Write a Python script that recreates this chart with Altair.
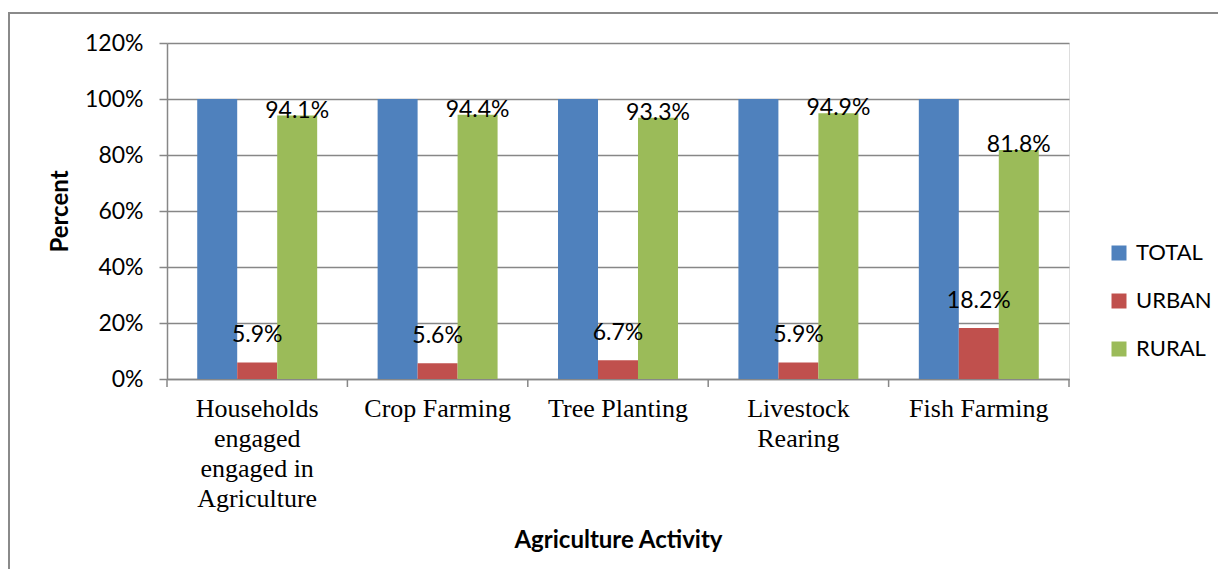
import altair as alt
import pandas as pd

categories = [
    ["Households", "engaged", "engaged in", "Agriculture"],
    ["Crop Farming"],
    ["Tree Planting"],
    ["Livestock", "Rearing"],
    ["Fish Farming"],
]
series = ["TOTAL", "URBAN", "RURAL"]
total = [100, 100, 100, 100, 100]
urban = [5.9, 5.6, 6.7, 5.9, 18.2]
rural = [94.1, 94.4, 93.3, 94.9, 81.8]
colors = ["#4F81BD", "#C0504D", "#9BBB59"]
y_ticks = [0, 20, 40, 60, 80, 100, 120]

cat_names = ["\n".join(c) for c in categories]
rows = []
for s, vals in zip(series, [total, urban, rural]):
    for c, v in zip(cat_names, vals):
        rows.append({"cat": c, "series": s, "value": v, "label": f"{v:.1f}%"})
df = pd.DataFrame(rows)
cat_df = pd.DataFrame({"cat": cat_names})

SANS = "Lato"
GRID = "#878787"
W, H = 902, 336
STEP = W / len(cat_names)

x_enc = alt.X(
    "cat:N",
    sort=cat_names,
    scale=alt.Scale(paddingInner=0.335, paddingOuter=0.1675),
    axis=alt.Axis(
        title="Agriculture Activity",
        titleFont=SANS, titleFontSize=24, titleFontWeight="bold", titleColor="#000",
        titleY=149, titleBaseline="top",
        labelFont="Liberation Serif", labelFontSize=26, labelColor="#000",
        labelExpr="split(datum.label, '\\n')", labelLineHeight=30,
        labelAngle=0, labelPadding=16,
        ticks=False, domainColor=GRID, domainWidth=1.5, grid=False,
    ),
)
xoff = alt.XOffset("series:N", sort=series, scale=alt.Scale(domain=series, paddingInner=0, paddingOuter=0))
y_enc = alt.Y(
    "value:Q",
    scale=alt.Scale(domain=[0, 120], nice=False),
    axis=alt.Axis(
        title="Percent", values=y_ticks,
        titleFont=SANS, titleFontSize=24, titleFontWeight="bold", titleColor="#000",
        titleX=-107, titleBaseline="middle",
        labelFont=SANS, labelFontSize=23, labelColor="#000",
        labelExpr="datum.value + '%'", labelPadding=16,
        tickSize=8, tickColor=GRID, tickWidth=1.5,
        domainColor=GRID, domainWidth=1.5,
        grid=True, gridColor=GRID, gridWidth=1.5,
    ),
)

base = alt.Chart(df)

bars = base.mark_bar().encode(
    x=x_enc, xOffset=xoff, y=y_enc,
    color=alt.Color(
        "series:N", sort=series,
        scale=alt.Scale(domain=series, range=colors),
        legend=alt.Legend(
            title=None, orient="none", legendX=941, legendY=199,
            symbolType="square", symbolSize=225, symbolStrokeWidth=0,
            labelFont=SANS, labelFontSize=22, labelColor="#000",
            labelOffset=6, rowPadding=26,
        ),
    ),
)

urban_lbl = base.transform_filter(alt.datum.series == "URBAN").mark_text(
    font=SANS, fontSize=23, color="#000", baseline="middle", dy=-27
).encode(x=x_enc, xOffset=xoff, y=y_enc, text="label:N")

rural_lbl = base.transform_filter(alt.datum.series == "RURAL").mark_text(
    font=SANS, fontSize=23, color="#000", baseline="middle", dy=-5
).encode(x=x_enc, xOffset=xoff, y=y_enc, text="label:N")

# category boundary tick marks on the x axis
tick_rules = alt.Chart(cat_df).mark_rule(
    color=GRID, strokeWidth=1.5, xOffset=-STEP / 2
).encode(x=alt.X("cat:N", sort=cat_names), y=alt.value(H), y2=alt.value(H + 8))
end_tick = alt.Chart(pd.DataFrame({"k": [0]})).mark_rule(
    color=GRID, strokeWidth=1.5
).encode(x=alt.value(W), y=alt.value(H), y2=alt.value(H + 8))

border = alt.Chart(pd.DataFrame({"k": [0]})).mark_rect(
    fill=None, stroke="#8a8a8a", strokeWidth=2
).encode(
    x=alt.value(-158), x2=alt.value(1200), y=alt.value(-30), y2=alt.value(700)
)

chart = alt.layer(border, bars, tick_rules, end_tick, urban_lbl, rural_lbl).properties(
    width=W, height=H,
    autosize=alt.AutoSizeParams(type="none"),
    padding={"left": 159, "top": 35, "right": 149, "bottom": 190},
).configure_view(stroke=None).configure(background="white")

chart.save("out.html", embed_options={"renderer": "svg", "actions": False})
